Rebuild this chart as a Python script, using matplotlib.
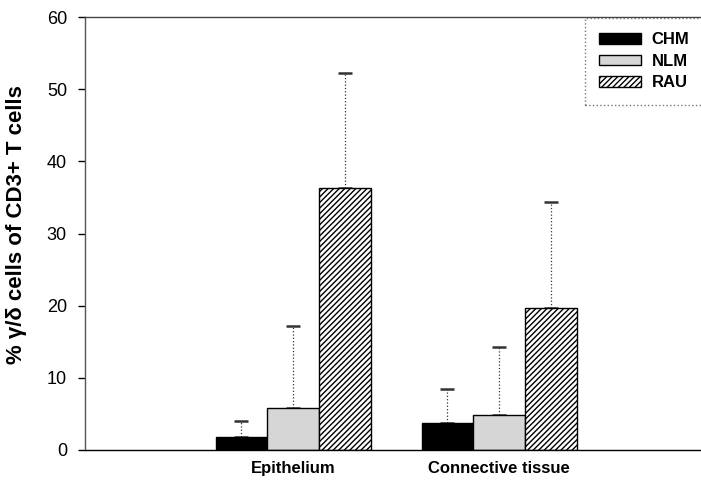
import numpy as np
import matplotlib
matplotlib.use("Agg")
import matplotlib.pyplot as plt

plt.rcParams["font.family"] = ["Liberation Sans", "DejaVu Sans"]

# 数据：均值 + 上误差（SD）
GROUPS = ["Epithelium", "Connective tissue"]
SERIES = ["CHM", "NLM", "RAU"]
MEANS = {
    "CHM": [1.8, 3.7],
    "NLM": [5.8, 4.9],
    "RAU": [36.3, 19.7],
}
ERRS = {
    "CHM": [2.2, 4.8],
    "NLM": [11.4, 9.4],
    "RAU": [15.9, 14.6],
}
YTICKS = [0, 10, 20, 30, 40, 50, 60]

FACE = {"CHM": "black", "NLM": "#d6d6d6", "RAU": "white"}
HATCH = {"CHM": None, "NLM": None, "RAU": "//////"}
WIDTH = 0.251

fig = plt.figure(figsize=(7.01, 4.80), dpi=100)
ax = fig.add_axes([85 / 701, 30 / 480, 616 / 701, 433 / 480])

x = np.arange(len(GROUPS))
for i, s in enumerate(SERIES):
    pos = x + (i - 1) * WIDTH
    ax.bar(pos, MEANS[s], WIDTH, color=FACE[s], edgecolor="black",
           hatch=HATCH[s], linewidth=1.0, label=s, zorder=2)
    eb = ax.errorbar(pos, MEANS[s], yerr=[np.zeros(len(GROUPS)), ERRS[s]],
                     fmt="none", ecolor="#333333", elinewidth=0.9,
                     capsize=5, capthick=1.8, zorder=1)
    eb[2][0].set_linestyle(":")

ax.set_xlim(-1.01, 1.98)
ax.set_ylim(0, 60)
ax.set_yticks(YTICKS)
ax.set_xticks(x)
ax.set_xticklabels(GROUPS, fontsize=12, fontweight="bold")
ax.tick_params(axis="x", length=0, pad=8)
ax.tick_params(axis="y", length=5, width=1, direction="out", pad=8,
               labelsize=13)
ax.set_ylabel("% γ/δ cells of CD3+ T cells", fontsize=16, fontweight="bold")
ax.yaxis.set_label_coords(-0.094, 0.52)

for side in ["left", "top", "bottom"]:
    ax.spines[side].set_linewidth(1.0)
ax.spines["top"].set_color("#444444")
ax.spines["left"].set_color("#555555")
ax.spines["right"].set_visible(False)

leg = ax.legend(loc="upper left",
                bbox_to_anchor=(585 / 701, 1 - 110 / 480, 140 / 701, 92 / 480),
                bbox_transform=fig.transFigure, mode="expand",
                fontsize=12, frameon=True, fancybox=False,
                edgecolor="#555555", handlelength=2.5, handleheight=0.6,
                borderpad=0.85, labelspacing=0.4, handletextpad=0.65,
                borderaxespad=0)
leg.get_frame().set_linestyle(":")
leg.get_frame().set_linewidth(1.0)
for t in leg.get_texts():
    t.set_fontweight("bold")

fig.savefig("out.png", dpi=100)
